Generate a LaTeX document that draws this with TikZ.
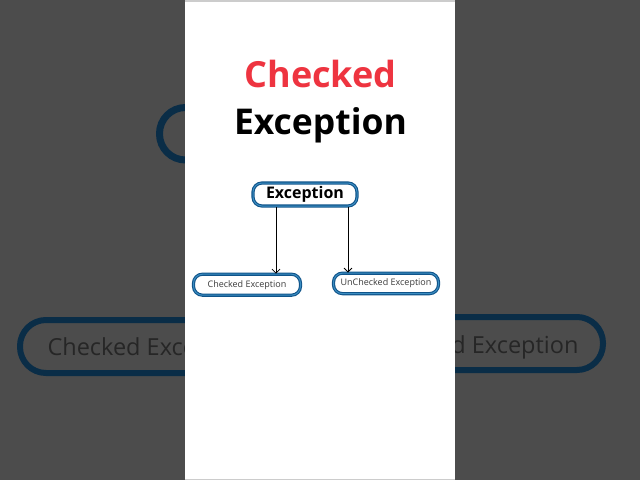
\documentclass[tikz,border=0pt]{standalone}
\usepackage{fontspec}
\setmainfont{Open Sans}
\usepackage{xcolor}
\usetikzlibrary{
		arrows.meta
	}
\definecolor{bggray}{HTML}{4C4C4C}
\definecolor{blurblue}{HTML}{0A2D47}
\definecolor{blurtext}{HTML}{262626}
\definecolor{titlered}{HTML}{EE3440}
\definecolor{boxblue}{HTML}{10548A}
\definecolor{boxlight}{HTML}{3C8EC2}
\definecolor{smalltext}{HTML}{3A3A3A}
\tikzset{
		>={Straight Barb[length=4pt,width=8pt]},
		box/.style={draw=boxblue, double=boxlight, double distance=1pt,
			line width=1.1pt, rounded corners=9pt, fill=white, inner sep=0pt}
	}

\begin{document}
\begin{tikzpicture}[x=1pt,y=-1pt]
          \useasboundingbox (0,0) rectangle (640,480);
          % blurred frame behind
          \fill[bggray] (0,0) rectangle (640,480);
          \draw[blurblue, line width=7pt, rounded corners=26pt] (159.5,107.5) rectangle (420,160);
          \draw[blurblue, line width=6pt, rounded corners=26pt] (20,320) rectangle (300,373);
          \draw[blurblue, line width=6pt, rounded corners=26pt] (340,317) rectangle (603,370);
          \node[anchor=base west, blurtext, font=\fontsize{23.5}{26}\selectfont] (bgleft) at (44,355) {Checked Exception};
          \node[anchor=base east, blurtext, font=\fontsize{23.5}{26}\selectfont] (bgright) at (582,353) {UnChecked Exception};

          % white panel
          \fill[white] (185,0) rectangle (455,480);
          \draw[black!20, line width=1.5pt] (185,0.75) -- (455,0.75);
          \draw[black!20, line width=1.5pt] (185,479.25) -- (455,479.25);

          % title
          \node[anchor=base, titlered, font=\fontsize{36}{40}\bfseries] (ttlA) at (320.5,87) {Checked};
          \node[anchor=base, black, font=\fontsize{35.5}{40}\bfseries] (ttlB) at (320.5,134) {Exception};

          % boxes
          \node[box, minimum width=104pt, minimum height=23pt, font=\fontsize{16}{18}\bfseries] (exc) at (305,194.5) {Exception};
          \node[box, minimum width=107pt, minimum height=21pt, text=smalltext, font=\fontsize{9}{11}\selectfont] (chk) at (247,284.7) {Checked Exception};
          \node[box, minimum width=105pt, minimum height=20.5pt, text=smalltext, font=\fontsize{9}{11}\selectfont] (unchk) at (386,283.4) {UnChecked Exception};

          \draw[->, line width=0.8pt] ([xshift=-29pt]exc.south) -- ([xshift=29pt]chk.north);
          \draw[->, line width=0.8pt] ([xshift=43pt]exc.south) -- ([xshift=-38pt]unchk.north);
\end{tikzpicture}
\end{document}
